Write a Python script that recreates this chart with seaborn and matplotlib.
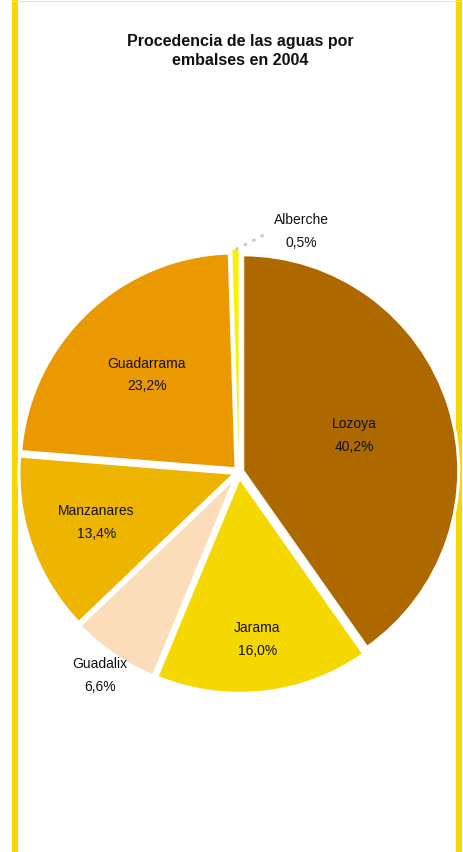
import matplotlib
matplotlib.use("Agg")
import matplotlib.pyplot as plt
import matplotlib.patches as mpatches
import numpy as np
import seaborn as sns

# ---- data ----
categories = ["Lozoya", "Jarama", "Guadalix", "Manzanares", "Guadarrama", "Alberche"]
values = [40.2, 16.0, 6.6, 13.4, 23.2, 0.5]
pct_labels = ["40,2%", "16,0%", "6,6%", "13,4%", "23,2%", "0,5%"]
title = "Procedencia de las aguas por\nembalses en 2004"

# ---- style ----
colors = ["#AD6800", "#F5D800", "#FBDDB9", "#EEB500", "#EB9900", "#F7F200"]
explode = [0.018, 0.025, 0.025, 0.02, 0.02, 0.03]
label_r = [0.56, 0.78, 1.14, 0.70, 0.62, 1.15]

sns.set_theme(style="white")
plt.rcParams['font.family'] = ['Liberation Sans', 'DejaVu Sans']

W, H = 464, 852
fig = plt.figure(figsize=(W / 100, H / 100), dpi=100)
fig.patch.set_facecolor("white")

# frame
frame_col = "#F5D800"
fig.add_artist(mpatches.Rectangle((12 / W, 0), 6 / W, 1, transform=fig.transFigure,
                                  color=frame_col, lw=0, zorder=0))
fig.add_artist(mpatches.Rectangle((456 / W, 0), 6 / W, 1, transform=fig.transFigure,
                                  color=frame_col, lw=0, zorder=0))
fig.add_artist(mpatches.Rectangle((12 / W, 1 - 2 / H), 450 / W, 1.2 / H, transform=fig.transFigure,
                                  color="#F8E97A", lw=0, zorder=0))

# title
fig.text(240 / W, 1 - 51 / H, title, ha="center", va="center", fontsize=11.5,
         fontweight="bold", color="#111111", linespacing=1.4)

cx, cy, R = 239, 472, 216
ax = fig.add_axes([(cx - R) / W, (H - cy - R) / H, 2 * R / W, 2 * R / H])
wedges, _ = ax.pie(values, colors=colors, startangle=90, counterclock=False,
                   explode=explode, radius=1,
                   wedgeprops=dict(edgecolor="white", linewidth=2.2))
wedges[-1].set_linewidth(0.3)
ax.set_xlim(-1, 1)
ax.set_ylim(-1, 1)
ax.set_aspect("equal")
ax.axis("off")

for i, (w, name, pct) in enumerate(zip(wedges, categories, pct_labels)):
    ang = np.deg2rad((w.theta1 + w.theta2) / 2)
    if name == "Alberche":
        ang_l = np.deg2rad(75.5)
        x, y = label_r[i] * np.cos(ang_l), label_r[i] * np.sin(ang_l)
        # dotted leader
        r0, r1 = 1.03, 1.11
        a1 = np.deg2rad(83.5)
        ax.plot([r0 * np.cos(ang), r1 * np.cos(a1)], [r0 * np.sin(ang), r1 * np.sin(a1)],
                ls=(0, (1.2, 2.2)), color="#C8C8C8", lw=2, clip_on=False)
    else:
        x, y = label_r[i] * np.cos(ang), label_r[i] * np.sin(ang)
    ax.text(x, y, f"{name}\n{pct}", ha="center", va="center", fontsize=10,
            color="#111111", linespacing=1.8, clip_on=False)

fig.savefig("out.png", dpi=100, facecolor="white")
